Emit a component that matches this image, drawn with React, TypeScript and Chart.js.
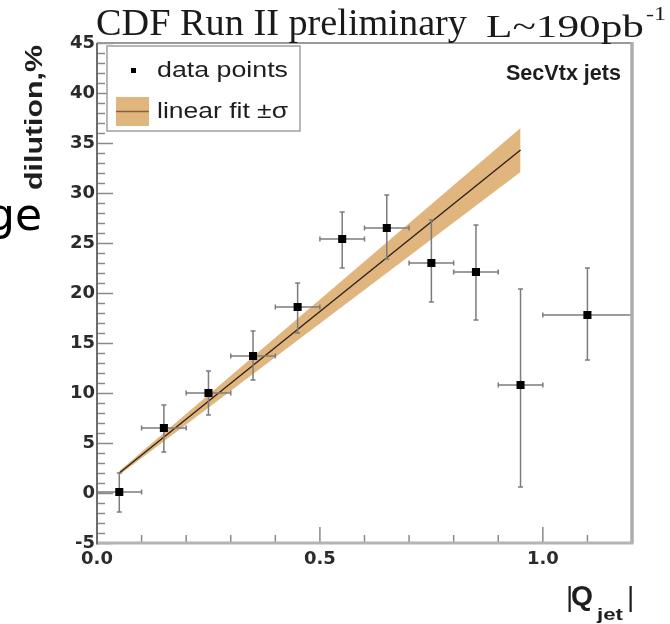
import React, { useEffect, useRef } from 'react';
import { Chart, registerables } from 'chart.js';

Chart.register(...registerables);

// ---- data ----
const qJet = [0.05, 0.15, 0.25, 0.35, 0.45, 0.55, 0.65, 0.75, 0.85, 0.95, 1.1];
const dilution = [0.1, 6.5, 10.0, 13.7, 18.6, 25.4, 26.5, 23.0, 22.1, 10.8, 17.8];
const qErrLow = [0.05, 0.05, 0.05, 0.05, 0.05, 0.05, 0.05, 0.05, 0.05, 0.05, 0.1];
const qErrHigh = [0.05, 0.05, 0.05, 0.05, 0.05, 0.05, 0.05, 0.05, 0.05, 0.05, 0.1];
const dilErrUp = [1.9, 2.3, 2.2, 2.5, 2.4, 2.7, 3.3, 4.3, 4.7, 9.6, 4.7];
const dilErrDown = [2.0, 2.4, 2.2, 2.4, 2.6, 2.9, 3.1, 3.9, 4.8, 10.2, 4.5];

const fitQ = [0.05, 0.95];
const fitLine = [2.0, 34.3];
const fitUpper = [2.2, 36.5];
const fitLower = [1.8, 32.1];

const xTickValues = [0, 0.5, 1.0];
const xTickLabels = ['0.0', '0.5', '1.0'];
const xMinorTicks = [0.1, 0.2, 0.3, 0.4, 0.6, 0.7, 0.8, 0.9, 1.1];
const yMin = -5;
const yMax = 45;
const yStep = 5;
const xMin = 0;
const xMax = 1.2;

const BAND = '#e0b67e';

function fitText(
  ctx: CanvasRenderingContext2D,
  text: string,
  x: number,
  y: number,
  font: string,
  width: number | null,
  align: CanvasTextAlign,
  color: string
) {
  ctx.save();
  ctx.font = font;
  const w = ctx.measureText(text).width;
  const s = width ? width / w : 1;
  ctx.translate(x, y);
  ctx.scale(s, 1);
  ctx.textAlign = align;
  ctx.textBaseline = 'alphabetic';
  ctx.fillStyle = color;
  ctx.fillText(text, 0, 0);
  ctx.restore();
}

const errorBarPlugin = {
  id: 'errorBars',
  beforeDatasetDraw(chart: any, args: any) {
    if (args.index !== 0) return;
    const { ctx, chartArea } = chart;
    const xs = chart.scales.x;
    const ys = chart.scales.y;
    ctx.save();
    ctx.beginPath();
    ctx.rect(chartArea.left, chartArea.top, chartArea.right - chartArea.left, chartArea.bottom - chartArea.top);
    ctx.clip();
    ctx.strokeStyle = '#7c7c7c';
    ctx.lineWidth = 1.5;
    const cap = 2.5;
    for (let i = 0; i < qJet.length; i++) {
      const px = xs.getPixelForValue(qJet[i]);
      const py = ys.getPixelForValue(dilution[i]);
      const x0 = xs.getPixelForValue(qJet[i] - qErrLow[i]);
      const x1 = xs.getPixelForValue(qJet[i] + qErrHigh[i]);
      const y0 = ys.getPixelForValue(dilution[i] + dilErrUp[i]);
      const y1 = ys.getPixelForValue(dilution[i] - dilErrDown[i]);
      ctx.beginPath();
      ctx.moveTo(x0, py);
      ctx.lineTo(x1, py);
      ctx.moveTo(px, y0);
      ctx.lineTo(px, y1);
      ctx.moveTo(x0, py - cap);
      ctx.lineTo(x0, py + cap);
      ctx.moveTo(x1, py - cap);
      ctx.lineTo(x1, py + cap);
      ctx.moveTo(px - cap, y0);
      ctx.lineTo(px + cap, y0);
      ctx.moveTo(px - cap, y1);
      ctx.lineTo(px + cap, y1);
      ctx.stroke();
    }
    ctx.restore();
  },
};

const ticksPlugin = {
  id: 'innerTicks',
  beforeDatasetsDraw(chart: any) {
    const { ctx, chartArea } = chart;
    const xs = chart.scales.x;
    const ys = chart.scales.y;
    ctx.save();
    ctx.strokeStyle = '#8a8a8a';
    ctx.lineWidth = 1.5;
    ctx.beginPath();
    for (let v = yMin; v <= yMax; v += 1) {
      const py = Math.round(ys.getPixelForValue(v)) + 0.5;
      const len = v % yStep === 0 ? 16 : 8;
      ctx.moveTo(chartArea.left, py);
      ctx.lineTo(chartArea.left + len, py);
    }
    for (const v of xTickValues) {
      const px = xs.getPixelForValue(v);
      ctx.moveTo(px, chartArea.bottom);
      ctx.lineTo(px, chartArea.bottom - 16);
    }
    for (const v of xMinorTicks) {
      const px = xs.getPixelForValue(v);
      ctx.moveTo(px, chartArea.bottom);
      ctx.lineTo(px, chartArea.bottom - 8);
    }
    ctx.stroke();
    ctx.restore();
  },
};

const framePlugin = {
  id: 'frameAndText',
  afterDraw(chart: any) {
    const { ctx, chartArea } = chart;
    const { left, right, top, bottom } = chartArea;
    ctx.save();
    // frame
    ctx.lineCap = 'butt';
    ctx.strokeStyle = '#9a9a9a';
    ctx.lineWidth = 2;
    ctx.beginPath();
    ctx.moveTo(left, top);
    ctx.lineTo(right, top);
    ctx.stroke();
    ctx.strokeStyle = '#adadad';
    ctx.lineWidth = 3.5;
    ctx.beginPath();
    ctx.moveTo(right, top - 1);
    ctx.lineTo(right, bottom);
    ctx.stroke();
    ctx.strokeStyle = '#b4b4b4';
    ctx.lineWidth = 3;
    ctx.beginPath();
    ctx.moveTo(left, bottom);
    ctx.lineTo(right + 1.5, bottom);
    ctx.stroke();
    ctx.strokeStyle = '#6e6e6e';
    ctx.lineWidth = 2;
    ctx.beginPath();
    ctx.moveTo(left, top);
    ctx.lineTo(left, bottom + 1.5);
    ctx.stroke();

    // legend box
    ctx.fillStyle = '#ffffff';
    ctx.fillRect(107, 46, 193, 85);
    ctx.strokeStyle = '#a0a0a0';
    ctx.lineWidth = 1.5;
    ctx.strokeRect(107, 46, 193, 85);
    ctx.fillStyle = '#000000';
    ctx.fillRect(131, 68, 5, 5);
    fitText(ctx, 'data points', 157, 77, '22px "Liberation Sans"', 131, 'left', '#1e1e1e');
    ctx.fillStyle = BAND;
    ctx.fillRect(116, 97, 33, 29);
    ctx.strokeStyle = '#8a6038';
    ctx.lineWidth = 1.5;
    ctx.beginPath();
    ctx.moveTo(116, 111.5);
    ctx.lineTo(149, 111.5);
    ctx.stroke();
    fitText(ctx, 'linear fit \u00b1\u03c3', 157, 118, '22px "Liberation Sans"', 131, 'left', '#1e1e1e');

    // labels
    fitText(ctx, 'SecVtx jets', 621, 80, 'bold 22px "Liberation Sans"', 115, 'right', '#1e1e1e');
    fitText(ctx, 'CDF Run II preliminary', 96, 35, '38px "Liberation Serif"', 371, 'left', '#1a1a1a');
    fitText(ctx, 'L~190pb', 486, 37, '31px "Liberation Serif"', 158, 'left', '#1a1a1a');
    fitText(ctx, '-1', 646, 20, '19px "Liberation Serif"', 20, 'left', '#1a1a1a');

    // y title (rotated)
    ctx.save();
    ctx.translate(42, 117.5);
    ctx.rotate(-Math.PI / 2);
    fitText(ctx, 'dilution,%', 0, 0, 'bold 23px "Liberation Sans"', 145, 'center', '#1e1e1e');
    ctx.restore();

    // x title |Q_jet|
    fitText(ctx, '|', 566, 606, '28px "Liberation Sans"', null, 'left', '#1e1e1e');
    fitText(ctx, 'Q', 571, 605, 'bold 28px "Liberation Sans"', 22, 'left', '#1e1e1e');
    fitText(ctx, 'jet', 597, 620, 'bold 17px "Liberation Sans"', 26, 'left', '#1e1e1e');
    fitText(ctx, '|', 627, 606, '28px "Liberation Sans"', null, 'left', '#1e1e1e');

    // slide fragment
    fitText(ctx, 'ge', 42, 230, '44px "DejaVu Sans"', null, 'right', '#000000');
    ctx.restore();
  },
};

export default function App() {
  const ref = useRef<HTMLCanvasElement | null>(null);
  useEffect(() => {
    if (!ref.current) return;
    const chart = new Chart(ref.current, {
      type: 'line',
      data: {
        datasets: [
          {
            label: 'data points',
            data: qJet.map((q, i) => ({ x: q, y: dilution[i] })),
            showLine: false,
            pointStyle: 'rect',
            pointRadius: 5.7,
            pointBorderWidth: 0,
            backgroundColor: '#000000',
            borderColor: '#000000',
          },
          {
            label: 'linear fit',
            data: fitQ.map((q, i) => ({ x: q, y: fitLine[i] })),
            borderColor: '#2e2218',
            borderWidth: 1.4,
            pointRadius: 0,
            fill: false,
          },
          {
            label: 'fit +sigma',
            data: fitQ.map((q, i) => ({ x: q, y: fitUpper[i] })),
            borderColor: 'rgba(0,0,0,0)',
            borderWidth: 0,
            pointRadius: 0,
            backgroundColor: BAND,
            fill: '+1',
          },
          {
            label: 'fit -sigma',
            data: fitQ.map((q, i) => ({ x: q, y: fitLower[i] })),
            borderColor: 'rgba(0,0,0,0)',
            borderWidth: 0,
            pointRadius: 0,
            fill: false,
          },
        ],
      } as any,
      options: {
        animation: false,
        responsive: false,
        events: [],
        layout: { padding: { top: 43, right: 38, bottom: 0, left: 0 } },
        plugins: {
          legend: { display: false },
          tooltip: { enabled: false },
          title: { display: false },
        },
        scales: {
          x: {
            type: 'linear',
            min: xMin,
            max: xMax,
            afterBuildTicks: (s: any) => {
              s.ticks = xTickValues.map((v) => ({ value: v }));
            },
            afterFit: (s: any) => {
              s.height = 81;
            },
            ticks: {
              autoSkip: false,
              maxRotation: 0,
              padding: 6,
              color: '#2b2b2b',
              font: { family: 'DejaVu Sans', weight: 'bold', size: 18 },
              callback: (v: any) => {
                const idx = xTickValues.indexOf(Number(v));
                return idx >= 0 ? xTickLabels[idx] : '';
              },
            },
            grid: { display: false, drawTicks: false },
            border: { display: false },
          },
          y: {
            type: 'linear',
            min: yMin,
            max: yMax,
            afterFit: (s: any) => {
              s.width = 97;
            },
            ticks: {
              stepSize: yStep,
              padding: 2,
              color: '#2b2b2b',
              font: { family: 'DejaVu Sans', weight: 'bold', size: 18 },
            },
            grid: { display: false, drawTicks: false },
            border: { display: false },
          },
        },
      } as any,
      plugins: [ticksPlugin, errorBarPlugin, framePlugin],
    });
    return () => chart.destroy();
  }, []);
  return (
    <div style={{ position: 'absolute', left: 0, top: 0, width: 670, height: 624, background: '#fff' }}>
      <canvas ref={ref} width={670} height={624} style={{ display: 'block' }} />
    </div>
  );
}
